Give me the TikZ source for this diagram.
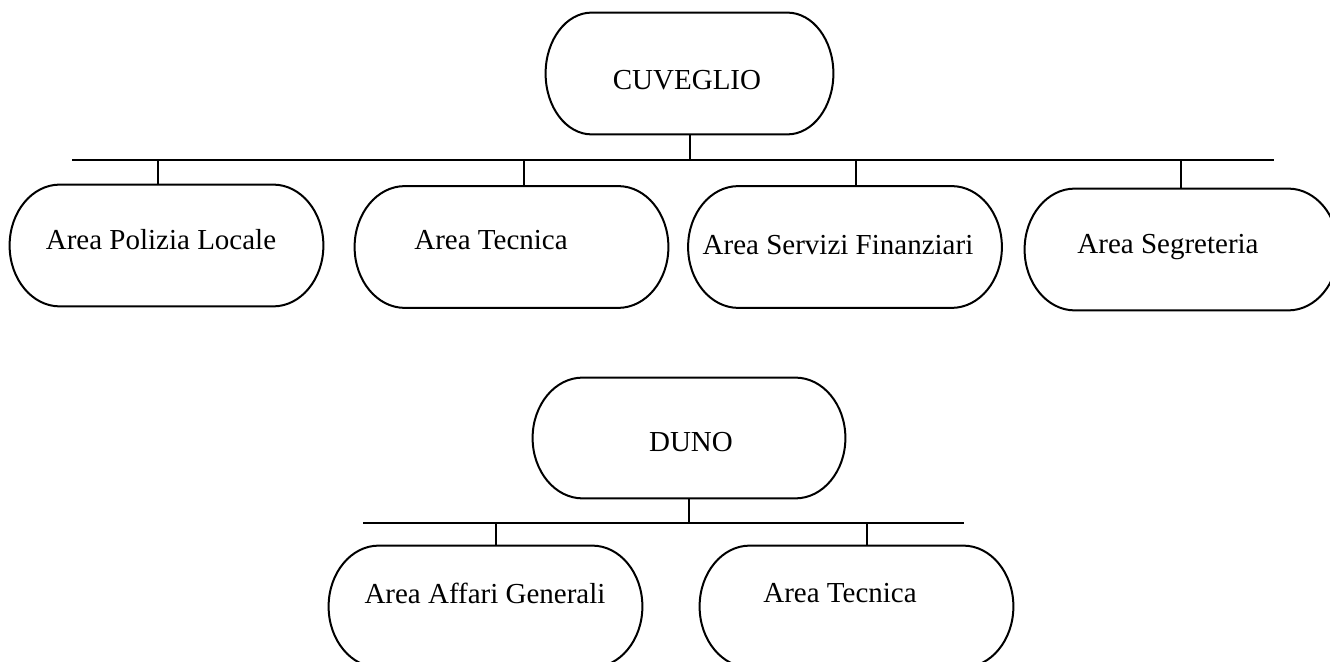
\documentclass[tikz,border=0pt]{standalone}
\usepackage{fontspec}
\setmainfont{Liberation Serif}
\usetikzlibrary{calc}
\tikzset{
  box/.style={rectangle, inner sep=0pt, minimum width=156.5pt, minimum height=60.5pt},
  lbl/.style={inner sep=0pt, font=\fontsize{14.5}{17}\selectfont, anchor=center},
  conn/.style={line width=1pt},
  termline/.style={line width=1pt}
}
\newcommand\termoutline[1]{%
  \draw[termline] let \p1=(#1.north west), \p2=(#1.south east),
    \n1={0.16*(\x2-\x1)}, \n2={0.5*(\y1-\y2)} in
    (\x1+\n1,\y1) -- (\x2-\n1,\y1)
    arc[start angle=90, end angle=-90, x radius=\n1, y radius=\n2]
    -- (\x1+\n1,\y2)
    arc[start angle=270, end angle=90, x radius=\n1, y radius=\n2]
    -- cycle;}
\begin{document}
\begin{tikzpicture}[x=0.5pt,y=-0.5pt]
\clip (0,0) rectangle (1330,662);
% --- CUVEGLIO ---
\node[box, minimum width=143.5pt] (cuv) at (689.5,73.5) {};
\node[lbl] (tcuv) at (687,80) {CUVEGLIO};
\node[box] (pol) at (166.5,245.5) {};
\node[lbl] (tpol) at (161,240) {Area Polizia Locale};
\node[box] (tec) at (511.5,247) {};
\node[lbl] (ttec) at (491,240) {Area Tecnica};
\node[box] (fin) at (845,247) {};
\node[lbl] (tfin) at (838,245) {Area Servizi Finanziari};
\node[box] (seg) at (1181.5,249.5) {};
\node[lbl] (tseg) at (1168,247) {Area Segreteria};
\termoutline{cuv}
\termoutline{pol}
\termoutline{tec}
\termoutline{fin}
\termoutline{seg}
\coordinate (cb1) at (72,160);
\coordinate (cb2) at (1274,160);
\coordinate (cpol) at (158,160);
\coordinate (ctec) at (524,160);
\coordinate (cfin) at (856,160);
\coordinate (cseg) at (1181,160);
\draw[conn] (cb1) -- (cb2);
\draw[conn] (cuv.south) -- (cuv.south |- cb1);
\draw[conn] (cpol) -- (cpol |- pol.north);
\draw[conn] (ctec) -- (ctec |- tec.north);
\draw[conn] (cfin) -- (cfin |- fin.north);
\draw[conn] (cseg) -- (cseg |- seg.north);
% --- DUNO ---
\node[box, minimum width=156pt, minimum height=60pt] (duno) at (689,438) {};
\node[lbl] (tduno) at (691,442) {DUNO};
\node[box] (aff) at (485.5,606.5) {};
\node[lbl] (taff) at (485,593) {Area Affari Generali};
\node[box] (tec2) at (856.5,606.5) {};
\node[lbl] (ttec2) at (840,593) {Area Tecnica};
\termoutline{duno}
\termoutline{aff}
\termoutline{tec2}
\coordinate (db1) at (363,523);
\coordinate (db2) at (964,523);
\coordinate (daff) at (496,523);
\coordinate (dtec) at (867,523);
\draw[conn] (db1) -- (db2);
\draw[conn] (duno.south) -- (duno.south |- db1);
\draw[conn] (daff) -- (daff |- aff.north);
\draw[conn] (dtec) -- (dtec |- tec2.north);
\end{tikzpicture}
\end{document}
